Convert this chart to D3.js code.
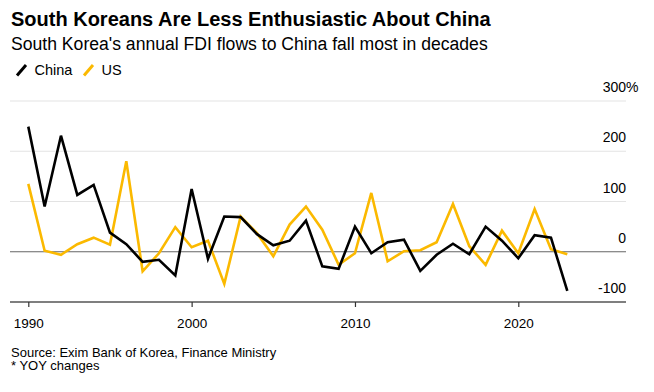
<!DOCTYPE html>
<html><head><meta charset="utf-8">
<script src="https://cdn.jsdelivr.net/npm/d3@7"></script>
<style>body{margin:0;background:#fff}svg{display:block}text{font-family:"Liberation Sans",Arial,sans-serif}</style>
</head><body><svg id="c" width="654" height="392"></svg>
<script>
const years = d3.range(1990, 2024);
const china = [249,90,231,113,133,38,15,-20,-16,-47,125,-14,70,69,35,13,22,62,-29,-34,50,-3,19,24,-38,-6,16,-5,50,22,-13,33,28,-78];
const us = [135,2,-6,15,28,14,180,-39,-3,49,9,22,-64,70,37,-9,54,90,44,-26,-3,117,-19,1,3,19,95,11,-26,42,-3,85,5,-5];
const yTicks = [300,200,100,0,-100];
const xTicks = [1990,2000,2010,2020];

const svg = d3.select("#c");
const x = d3.scaleLinear().domain([1990,2020]).range([28.3,518.3]);
const y = d3.scaleLinear().domain([-100,300]).range([302,101]);
const gridL = 10, gridR = 626;

svg.append("text").attr("x",11).attr("y",26).attr("font-size",20).attr("font-weight","bold").attr("fill","#000")
  .text("South Koreans Are Less Enthusiastic About China");
svg.append("text").attr("x",11).attr("y",50).attr("font-size",17.6).attr("fill","#000")
  .text("South Korea's annual FDI flows to China fall most in decades");

// legend
const leg = [{n:"China",c:"#000",x:16},{n:"US",c:"#fbb900",x:83}];
leg.forEach(l=>{
  svg.append("line").attr("x1",l.x+1).attr("y1",75.5).attr("x2",l.x+10).attr("y2",65).attr("stroke",l.c).attr("stroke-width",3);
  svg.append("text").attr("x",l.x+18.5).attr("y",75).attr("font-size",14.5).attr("fill","#000").text(l.n);
});

// grid
yTicks.forEach(t=>{
  svg.append("line").attr("x1",gridL).attr("x2",gridR).attr("y1",y(t)).attr("y2",y(t))
    .attr("stroke", t===0 ? "#666" : (t===-100 ? "#555" : "#e3e3e3")).attr("stroke-width", t===-100?1.5:1.2);
  svg.append("text").attr("x",626).attr("y",y(t)-9).attr("text-anchor","end").attr("font-size",14).attr("fill","#000").text(t);
  if(t===300) svg.append("text").attr("x",626).attr("y",y(t)-9).attr("font-size",14).attr("fill","#000").text("%");
});

// x axis ticks
const xa = svg.append("g").attr("transform","translate(0,302)")
  .call(d3.axisBottom(x).tickValues(xTicks).tickFormat(d3.format("d")).tickSize(5).tickSizeOuter(0));
xa.select(".domain").remove();
xa.selectAll("line").attr("stroke","#333").attr("stroke-width",1.2);
xa.selectAll("text").attr("font-size",13.5).attr("fill","#000").attr("dy",0).attr("y",25.5).attr("font-family","Liberation Sans, Arial, sans-serif");

const line = d3.line().x((d,i)=>x(years[i])).y(d=>y(d));
svg.append("path").datum(us).attr("d",line).attr("fill","none").attr("stroke","#fbb900").attr("stroke-width",2.6).attr("stroke-linejoin","miter");
svg.append("path").datum(china).attr("d",line).attr("fill","none").attr("stroke","#000").attr("stroke-width",2.6).attr("stroke-linejoin","miter");

svg.append("text").attr("x",11).attr("y",356.5).attr("font-size",13).attr("fill","#000").text("Source: Exim Bank of Korea, Finance Ministry");
svg.append("text").attr("x",11).attr("y",370).attr("font-size",13).attr("fill","#000").text("* YOY changes");
</script></body></html>
